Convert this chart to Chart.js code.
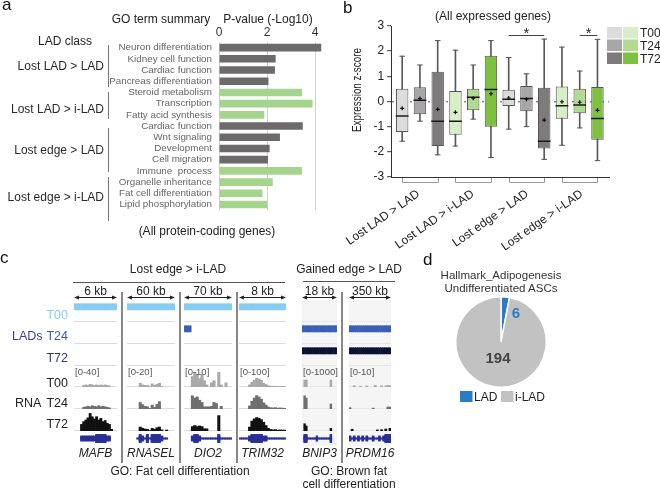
<!DOCTYPE html>
<html><head><meta charset="utf-8">
<script src="https://cdn.jsdelivr.net/npm/chart.js@4.4.1/dist/chart.umd.min.js"></script>
<style>
html,body{margin:0;padding:0;background:#fff}
body{width:660px;height:490px;position:relative;overflow:hidden;font-family:"Liberation Sans",Arial,sans-serif}
canvas{position:absolute;display:block}
#ov{position:absolute;left:0;top:0;pointer-events:none}
</style></head><body>
<svg id="ov" width="660" height="490" xmlns="http://www.w3.org/2000/svg"></svg>
<script>
// ================= DATA =================
// panel a
const ladClasses = ['Lost LAD > LAD','Lost LAD > i-LAD','Lost edge > LAD','Lost edge > i-LAD'];
const goTerms = ['Neuron differentiation','Kidney cell function','Cardiac function','Pancreas differentiation',
  'Steroid metabolism','Transcription','Fatty acid synthesis',
  'Cardiac function','Wnt signaling','Development','Cell migration',
  'Immune  process','Organelle inheritance','Fat cell differentiation','Lipid phosphorylation'];
const goClassIdx = [0,0,0,0,1,1,1,2,2,2,2,3,3,3,3];
const goPvalues = [4.26,2.36,2.33,2.06,3.46,3.90,1.89,3.49,2.54,2.11,2.04,3.46,2.24,1.81,2.01];
const goTicks = [0,2,4];

// panel b (box per class x time point)
const timePoints = ['T00','T24','T72'];
const boxMin    = [-1.58,-0.78,-2.12, -1.77,-0.70,-2.23, -1.10,-1.00,-2.30, -1.74,-1.05,-2.35];
const boxQ1     = [-1.21,-0.51,-1.77, -1.32,-0.35,-1.00, -0.18,-0.39,-1.87, -0.69,-0.47,-1.52];
const boxMedian = [-0.58, 0.05,-0.78, -0.78, 0.17, 0.48,  0.09, 0.12,-1.58, -0.17,-0.14,-0.68];
const boxQ3     = [ 0.51, 0.57, 1.18,  0.42, 0.51, 1.82,  0.47, 0.62, 0.55,  0.60, 0.51, 0.58];
const boxMax    = [ 1.80, 1.45, 2.42,  2.04, 1.45, 2.42,  1.75, 1.10, 2.48,  2.16, 1.21, 2.47];
const boxMean   = [-0.27, 0.12,-0.31, -0.43, 0.13, 0.31,  0.14, 0.09,-0.74, -0.01,-0.03,-0.35];
const sigPairs  = [[6,8],[10,11]];
const sigLevel  = 2.65;

// panel c (binned browser tracks)
const genes = ['MAFB','RNASEL','DIO2','TRIM32','BNIP3','PRDM16'];
const geneSpans = ['6 kb','60 kb','70 kb','8 kb','18 kb','350 kb'];
const rnaRanges = [40,20,10,100,1000,10];
const rnaT00 = [
  [0,0,0,0,3,4,3,5,4,3,4,3,4,3,4,3,2,0,0,0],
  [0,0,0,0,0,3.6,2,1.5,1.5,0.5,3,1.5,2.5,3.6,0.5,0,0,0,0,0],
  [0,0,0,5,7,6,4,6,3,1,0,2,3,0,7,1,0,2,0,0],
  [0,0,0,0,10,23,33,42,38,32,18,12,6,4,3,4,2,3,2,2],
  [0,330,330,0,0,0,0,0,0,0,0,0,0,0,0,0,330,0,0,0],
  [0,0,0.6,0,0,0.4,0,0,0.5,0,0,0,0.8,0,0,0.6,0,0.5,0.8,0.6]];
const rnaT24 = [
  [0,0,0,0,3,4,5,4,6,5,4,6,4,5,4,3,2,0,0,0],
  [0,0,0,0,0,6,4,2.4,2,0.5,3.6,1.5,4.2,6.7,0,0,0,0,0,0],
  [0,0,0,6,5,5.5,4,3,1,1,1,1.2,3,2.5,0,1.2,0,0,0,0],
  [0,0,0,0,14,35,50,61,55,45,28,18,9,6,5,6,4,5,4,3],
  [0,600,500,0,0,0,0,0,0,0,0,0,0,0,0,0,230,0,0,0],
  [0.6,0,0,0,0,0,0,0,0,0,0,0.4,0,0,0,0,0,0,0.9,0.9]];
const rnaT72 = [
  [0,0,0,12,17,20,24,32,26,22,26,20,23,17,19,14,12,3,0,0],
  [0,0,0,0,0,3.6,2.5,1.8,1.5,0.4,2.4,1.5,3,3.6,1,0,0.9,0,0,0],
  [0,0,0,2,2.5,2,2.3,2,1,1,0,0,0,0,7,0,0,0,0,0],
  [0,0,0,0,18,45,55,61,58,52,40,25,12,7,5,6,4,5,4,4],
  [0,330,230,0,0,0,0,0,0,0,0,0,0,0,0,0,120,0,0,0],
  [0,0.8,0,0,0,0,0,0,0,0,0,0,0,0.5,0,0.6,0,0.9,0,1.2]];
// LAD segments as [first bin, last bin] or null
const ladT00 = [[0,19],[0,19],[0,19],[0,19],null,null];
const ladT24 = [null,null,[0,2],null,[0,19],[0,19]];
const ladT72 = [null,null,null,null,[0,19],[0,19]];
// gene model per bin: 0 none, 1 intron, 2 UTR/small exon, 3 coding exon
const geneModel = [
  [0,0,0,2,2,2,2,2,2,2,3,3,3,3,3,2,2,0,0,0],
  [0,0,0,0,1,3,2,1,3,1,3,3,3,3,2,1,1,0,0,0],
  [0,0,0,2,3,3,2,1,1,1,1,1,1,1,3,1,1,1,1,1],
  [1,1,1,1,2,3,3,3,3,3,2,2,1,1,1,1,1,1,1,1],
  [0,3,3,1,1,1,1,1,2,1,1,1,1,1,1,1,3,0,0,0],
  [2,1,2,1,2,1,2,1,2,1,1,2,1,1,2,1,2,3,3,3]];

// panel d
const pieLabels = ['LAD','i-LAD'];
const pieValues = [6,194];

// ================= STYLE / LAYOUT =================
const FONT = "'Liberation Sans', Arial, sans-serif";
Chart.defaults.font.family = FONT;
Chart.defaults.color = '#222';
const DGRAY = '#6c6a6a', LGREEN = '#a5d48d';
const BOXCOLS = ['#dcdcdc','#a8a6a8','#7e7b7c','#d8eec8','#b3da93','#7ec03f'];
const LADCOL = ['#86cef1','#3b5fb6','#0e1133'];
const RNACOL = ['#a9a9a9','#6f6f6f','#111111'];
const GENECOL = '#2b2f98';
const colX = [[74,117],[127,175],[184,232],[239,286],[302,337],[349,391]];

function mkCanvas(x,y,w,h){
  const c=document.createElement('canvas');
  c.width=w;c.height=h;c.style.left=x+'px';c.style.top=y+'px';
  document.body.insertBefore(c, document.getElementById('ov'));
  return c;
}
const baseOpts = {responsive:false, animation:false, devicePixelRatio:1,
  plugins:{legend:{display:false}, tooltip:{enabled:false}}};

// ================= PANEL A =================
new Chart(mkCanvas(0,0,330,223), {
  type:'bar',
  data:{labels:goTerms, datasets:[{data:goPvalues,
    backgroundColor:goClassIdx.map(c=>c%2?LGREEN:DGRAY), barPercentage:0.68, categoryPercentage:1}]},
  options:{...baseOpts, indexAxis:'y',
    layout:{padding:{left:0,right:3,top:0,bottom:0}},
    scales:{
      x:{position:'top', min:0, max:4.5,
        afterBuildTicks:s=>{s.ticks=goTicks.map(v=>({value:v}));},
        ticks:{color:'#333', font:{size:12}, padding:2},
        grid:{color:'#d2d2d2', drawTicks:false}, border:{display:false},
        afterFit:s=>{s.height=42;}},
      y:{ticks:{color:'#666', font:{size:9.8}, padding:7, autoSkip:false},
        grid:{display:false, drawTicks:false}, border:{display:false},
        afterFit:s=>{s.width=219;}}
    }}
});

// ================= PANEL B =================
const boxIdx = boxMedian.map((_,i)=>i);
const boxAnnot = {id:'boxAnnot', afterDatasetsDraw(chart){
  const {ctx, chartArea, scales:{x,y}} = chart;
  ctx.save();
  ctx.strokeStyle='#9a9a9a'; ctx.lineWidth=1;
  for(let g=0; g<ladClasses.length; g++){
    const a=Math.round(x.getPixelForValue(g*3))+0.5, b=Math.round(x.getPixelForValue(g*3+2))+0.5;
    const y0=chartArea.bottom+1, y1=chartArea.bottom+5.5;
    ctx.beginPath(); ctx.moveTo(a,y0); ctx.lineTo(a,y1); ctx.lineTo(b,y1); ctx.lineTo(b,y0); ctx.stroke();
  }
  ctx.strokeStyle='#444'; ctx.fillStyle='#222'; ctx.font='15px '+FONT; ctx.textAlign='center';
  for(const [i,j] of sigPairs){
    const a=x.getPixelForValue(i), b=x.getPixelForValue(j), yy=Math.round(y.getPixelForValue(sigLevel))+0.5;
    ctx.beginPath(); ctx.moveTo(a,yy); ctx.lineTo(b,yy); ctx.stroke();
    ctx.fillText('*',(a+b)/2,yy+2);
  }
  ctx.restore();
}};
new Chart(mkCanvas(330,0,330,250), {
  type:'bar',
  data:{datasets:[
    {type:'bar', data:boxIdx.map(i=>({x:i,y:[boxMin[i],boxMax[i]]})), backgroundColor:'#5a5a5a',
      barThickness:1, grouped:false, order:5},
    {type:'bar', data:boxIdx.map(i=>({x:i,y:[boxQ1[i],boxQ3[i]]})),
      backgroundColor:boxIdx.map(i=>BOXCOLS[(Math.floor(i/3)%2)*3+i%3]),
      borderColor:'#555', borderWidth:1, borderSkipped:false, barPercentage:0.7, categoryPercentage:1,
      grouped:false, order:4},
    {type:'line', data:boxIdx.map(i=>({x:i,y:boxMax[i]})), showLine:false, pointStyle:'line',
      pointRadius:2.8, pointBorderWidth:1, pointBorderColor:'#555', order:3},
    {type:'line', data:boxIdx.map(i=>({x:i,y:boxMin[i]})), showLine:false, pointStyle:'line',
      pointRadius:2.8, pointBorderWidth:1, pointBorderColor:'#555', order:3},
    {type:'line', data:boxIdx.map(i=>({x:i,y:boxMedian[i]})), showLine:false, pointStyle:'line',
      pointRadius:6.4, pointBorderWidth:1.5, pointBorderColor:'#1a1a1a', order:2},
    {type:'line', data:boxIdx.map(i=>({x:i,y:boxMean[i]})), showLine:false, pointStyle:'cross',
      pointRadius:2, pointBorderWidth:1.2, pointBorderColor:'#111', order:1}
  ]},
  options:{...baseOpts,
    layout:{padding:{left:0,right:51,top:26,bottom:0}},
    scales:{
      x:{type:'linear', min:-0.62, max:11.65, offset:false, display:false},
      x2:{type:'category', labels:ladClasses, offset:true, position:'bottom',
        grid:{display:false, drawTicks:false}, border:{display:true, color:'#333', width:1},
        ticks:{minRotation:35, maxRotation:35, color:'#222', font:{size:12}, padding:10, autoSkip:false},
        afterFit:s=>{s.height=73;}},
      y:{min:-3, max:3, ticks:{stepSize:1, color:'#222', font:{size:12}, padding:3},
        grid:{color:c=>(c.tick && c.tick.value===0)?'#8a8a8a':'rgba(0,0,0,0)', lineWidth:1.4,
          tickColor:'#333', tickLength:4, tickWidth:1},
        border:{color:'#333', width:1, dash:[2,4]},
        afterFit:s=>{s.width=52;}}
    }},
  plugins:[boxAnnot]
});

// ================= PANEL C =================
const trackLines = {id:'trackLines', beforeDatasetsDraw(chart, args, o){
  const {ctx, chartArea} = chart;
  ctx.save();
  if(o.bg){ ctx.fillStyle=o.bg; ctx.fillRect(chartArea.left,chartArea.top,chartArea.width,chartArea.height); }
  ctx.strokeStyle=o.color; ctx.lineWidth=1;
  for(const id of ['lad0','lad1','lad2','rna0','rna1','rna2']){
    const s=chart.scales[id]; const yy=Math.round(s.getPixelForValue(s.min))-0.5;
    ctx.beginPath(); ctx.moveTo(chartArea.left,yy); ctx.lineTo(chartArea.right,yy); ctx.stroke();
  }
  ctx.restore();
}};
function geneChart(g){
  const [x0,x1]=colX[g];
  const nb=rnaT00[g].length;
  const bins=Array.from({length:nb},(_,i)=>i);
  const lad=(arr)=>bins.map(i=>arr[g] && i>=arr[g][0] && i<=arr[g][1] ? [0.55,0.83] : null);
  const gm=geneModel[g];
  const nz=a=>a.map(v=>v>0?v:null);
  const ds=(data,axis,color)=>({data, yAxisID:axis, backgroundColor:color});
  const ax=(w,min,max)=>({position:'right', stack:'trk', stackWeight:w, min, max, display:false});
  new Chart(mkCanvas(x0,300,x1-x0,146), {
    type:'bar',
    data:{labels:bins, datasets:[
      ds(lad(ladT00),'lad0',LADCOL[0]), ds(lad(ladT24),'lad1',LADCOL[1]), ds(lad(ladT72),'lad2',LADCOL[2]),
      ds(nz(rnaT00[g]),'rna0',RNACOL[0]), ds(nz(rnaT24[g]),'rna1',RNACOL[1]), ds(nz(rnaT72[g]),'rna2',RNACOL[2]),
      ds(gm.map(c=>c>=1?[-0.1,0.1]:null),'gene',GENECOL),
      ds(gm.map(c=>c>=2?[-0.35,0.35]:null),'gene',GENECOL),
      ds(gm.map(c=>c>=3?[-0.55,0.55]:null),'gene',GENECOL)
    ]},
    options:{...baseOpts,
      datasets:{bar:{grouped:false, barPercentage:1, categoryPercentage:1, borderWidth:0}},
      layout:{padding:0},
      plugins:{...baseOpts.plugins, trackLines:{color:g>=4?'#e6e6e6':'#dcdcdc', bg:g>=4?'#f5f5f5':null}},
      scales:{
        x:{display:false},
        lad0:ax(22,0,1), lad1:ax(22,0,1), lad2:ax(22,0,1),
        rna0:ax(21,0,rnaRanges[g]), rna1:ax(22,0,rnaRanges[g]), rna2:ax(22,0,rnaRanges[g]),
        gene:ax(15,-1,1)
      }},
    plugins:[trackLines]
  });
}
genes.forEach((_,g)=>geneChart(g));

// ================= PANEL D =================
new Chart(mkCanvas(455,296,92,92), {
  type:'pie',
  data:{labels:pieLabels, datasets:[{data:pieValues, backgroundColor:['#2a7cc4','#c2c2c2'],
    borderColor:'#ffffff', borderWidth:1.5}]},
  options:{...baseOpts, layout:{padding:0}}
});

// ================= TEXT & ANNOTATION OVERLAY =================
const NS='http://www.w3.org/2000/svg', svg=document.getElementById('ov');
function T(str,x,y,o={}){
  const t=document.createElementNS(NS,'text'); t.textContent=str;
  t.setAttribute('x',x); t.setAttribute('y',y);
  t.setAttribute('font-size',o.s||12); t.setAttribute('fill',o.c||'#222');
  t.setAttribute('text-anchor',o.a||'start'); t.setAttribute('font-family',"Liberation Sans, Arial, sans-serif");
  if(o.w) t.setAttribute('font-weight',o.w);
  if(o.i) t.setAttribute('font-style','italic');
  if(o.len){ t.setAttribute('textLength',o.len); t.setAttribute('lengthAdjust','spacingAndGlyphs'); }
  if(o.r) t.setAttribute('transform',`rotate(${o.r} ${x} ${y})`);
  svg.appendChild(t);
}
function L(x1,y1,x2,y2,c='#444',w=1){
  const l=document.createElementNS(NS,'line');
  l.setAttribute('x1',x1);l.setAttribute('y1',y1);l.setAttribute('x2',x2);l.setAttribute('y2',y2);
  l.setAttribute('stroke',c);l.setAttribute('stroke-width',w); svg.appendChild(l);
}
function R(x,y,w,h,c){
  const r=document.createElementNS(NS,'rect');
  r.setAttribute('x',x);r.setAttribute('y',y);r.setAttribute('width',w);r.setAttribute('height',h);r.setAttribute('fill',c);
  svg.appendChild(r);
}
function P(pts,c){
  const p=document.createElementNS(NS,'polygon'); p.setAttribute('points',pts); p.setAttribute('fill',c); svg.appendChild(p);
}

// panel a
T('a',2,10,{s:17,c:'#111'});
T('GO term summary',161,22.5,{a:'middle'});
T('P-value (-Log10)',268,22.5,{a:'middle'});
T('LAD class',65,45,{a:'middle',c:'#222'});
const aGroupY=[[45,87,70],[92,119,112.5],[128,172,153.5],[177,221,200.5]];
aGroupY.forEach(([y0,y1,yt],k)=>{ L(108.5,y0,108.5,y1,'#777',1); T(ladClasses[k],104,yt,{a:'end',c:'#2a2a2a'}); });
T('(All protein-coding genes)',207,235,{a:'middle'});

// panel b
T('b',343,13,{s:17,c:'#111'});
T('(All expressed genes)',493,20,{a:'middle'});
T('Expression z-score',360.5,90,{a:'middle',r:-90,s:12,len:84});
const legRows=[27,39.5,52.5];
timePoints.forEach((tp,k)=>{
  R(607,legRows[k],15,11.5,BOXCOLS[k]); R(623,legRows[k],15,11.5,BOXCOLS[3+k]);
  T(tp,640,legRows[k]+10,{s:12});
});

// panel c
T('c',0,263,{s:17,c:'#111'});
T('Lost edge > i-LAD',178,273,{a:'middle'});
T('Gained edge > LAD',349,273,{a:'middle'});
L(73,282.5,285,282.5,'#555',1); L(303,281.5,395,281.5,'#555',1);
colX.forEach(([x0,x1],g)=>{
  const cx=(x0+x1)/2;
  T(geneSpans[g],cx,295,{a:'middle'});
  L(x0+4,297.5,x1-4,297.5,'#222',1);
  P(`${x0},297.5 ${x0+5},295.5 ${x0+5},299.5`,'#222');
  P(`${x1},297.5 ${x1-5},295.5 ${x1-5},299.5`,'#222');
  T('[0-'+rnaRanges[g]+']',x0+1,375,{s:9.5,c:'#555'});
  T(genes[g],cx,457,{a:'middle',i:true});
});
[122,180,237,342].forEach(x=>L(x,292,x,463,'#555',1.4));
T('T00',68,319,{a:'end',s:12.5,c:'#8bd0f2'});
T('LADs',12,340,{s:12.5,c:'#3d3a9c'});
T('T24',68,340,{a:'end',s:12.5,c:'#3f58ad'});
T('T72',68,361.5,{a:'end',s:12.5,c:'#2e3484'});
T('T00',68,386.5,{a:'end',s:12.5});
T('RNA',15,407,{s:12.5});
T('T24',68,407,{a:'end',s:12.5});
T('T72',68,428,{a:'end',s:12.5});
T('GO: Fat cell differentiation',180,475,{a:'middle'});
T('GO: Brown fat',349,475,{a:'middle'});
T('cell differentiation',349,488,{a:'middle'});

// panel d
T('d',423,265,{s:17,c:'#111'});
T('Hallmark_Adipogenesis',501,278.5,{a:'middle',s:11.5,c:'#333'});
T('Undifferentiated ASCs',501,292,{a:'middle',s:11.5,c:'#333'});
T(String(pieValues[0]),516,318,{a:'middle',s:15,w:'bold',c:'#2a7cc4'});
T(String(pieValues[1]),498,363,{a:'middle',s:15,w:'bold',c:'#444'});
R(460,391,12.5,11,'#2a7cc4'); T(pieLabels[0],474,401,{s:12});
R(501,391,12.5,11,'#c2c2c2'); T(pieLabels[1],515,401,{s:12});
</script>
</body></html>
